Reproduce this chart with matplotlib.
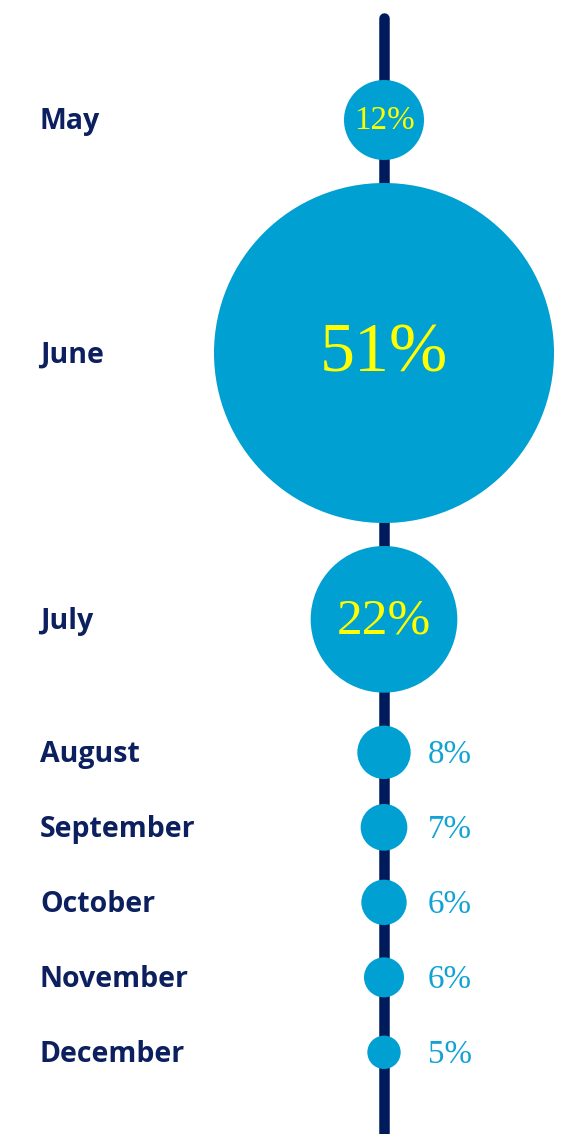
import numpy as np
import matplotlib
matplotlib.use("Agg")
import matplotlib.pyplot as plt
from matplotlib.patches import Circle

# ---- data ----
months = ["May", "June", "July", "August", "September", "October", "November", "December"]
shares = [12, 51, 22, 8, 7, 6.8, 6, 5]          # bubble sizes (percent)
share_labels = ["12%", "51%", "22%", "8%", "7%", "6%", "6%", "5%"]

# ---- style / layout ----
W, H = 570, 1134
DPI = 100
NAVY = "#001B5B"
LABEL_NAVY = "#0C1F5E"
BLUE = "#00A0D2"
OUT_BLUE = "#12A2D4"
YELLOW = "#FFFF00"
LINE_X = 384
PX_PER_PCT = 170 / 51          # radius in px per percent
GAP_BIG = 23
GAP_SECTION = 33
SMALL_PITCH = 75
INSIDE_MIN = 10                # values >= this get their label inside the bubble
TOP_MARGIN = 80

def pt(px):
    return px * 72 / DPI

fig = plt.figure(figsize=(W / DPI, H / DPI), dpi=DPI)
ax = fig.add_axes([0, 0, 1, 1])
ax.set_xlim(0, W)
ax.set_ylim(H, 0)
ax.set_aspect("equal")
ax.axis("off")

# compute layout (stacked bubbles, fixed pitch for the small ones)
radii = [v * PX_PER_PCT for v in shares]
centers = []
prev_bottom = None
prev_small = False
for v, r in zip(shares, radii):
    small = v < INSIDE_MIN
    if prev_bottom is None:
        c = TOP_MARGIN + r
    elif small and prev_small:
        c = centers[-1] + SMALL_PITCH
    elif small:
        c = prev_bottom + GAP_SECTION + r
    else:
        c = prev_bottom + GAP_BIG + r
    centers.append(c)
    prev_bottom = c + r
    prev_small = small

# vertical timeline
ax.plot([LINE_X, LINE_X], [18, H + 10], color=NAVY, lw=pt(10.5),
        solid_capstyle="round", zorder=1)

for m, v, lab, r, c in zip(months, shares, share_labels, radii, centers):
    ax.add_patch(Circle((LINE_X, c), r, facecolor=BLUE, edgecolor="none", zorder=2))
    ax.text(40, c + 2, m, ha="left", va="center", fontsize=pt(28.5),
            fontfamily="Open Sans", fontweight="bold", color=LABEL_NAVY, zorder=3)
    if v >= INSIDE_MIN:
        fpx = min(11 + 0.55 * r, 70)
        ax.text(LINE_X, c + fpx * 0.03, lab, ha="center", va="center",
                fontsize=pt(fpx), fontfamily="Liberation Serif",
                color=YELLOW, zorder=3)
    else:
        ax.text(LINE_X + 44, c + 2, lab, ha="left", va="center",
                fontsize=pt(33), fontfamily="Liberation Serif",
                color=OUT_BLUE, zorder=3)

fig.savefig("out.png", dpi=DPI, facecolor="white")
